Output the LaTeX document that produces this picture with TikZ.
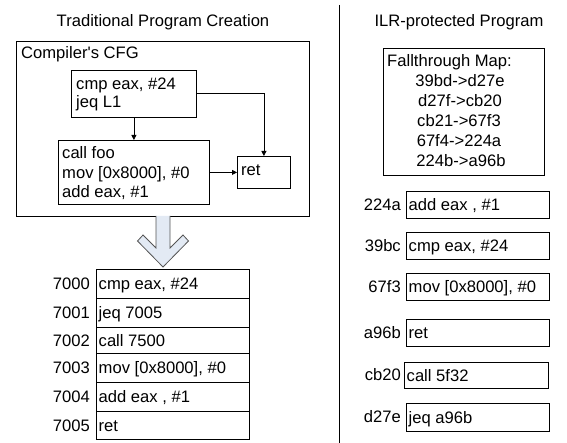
\documentclass[tikz,border=0pt]{standalone}
\usepackage{fontspec}
\setmainfont{Liberation Sans}
\usetikzlibrary{arrows.meta}
\definecolor{arrowfill}{HTML}{E3EAF4}
\definecolor{arrowline}{HTML}{555555}
\begin{document}
\begin{tikzpicture}[x=1pt,y=-1pt,
  txt/.style={font=\fontsize{16.6}{19}\selectfont, inner sep=0pt, text height=11.8pt, text depth=0pt},
  btxt/.style={font=\fontsize{16.6}{19}\selectfont, inner sep=0pt, anchor=base west},
  boxn/.style={draw, line width=0.8pt, inner sep=0pt, anchor=north west},
  flow/.style={line width=0.8pt, -{Triangle[length=5pt,width=5pt]}}]
\useasboundingbox (0,0) rectangle (567,443);
\newcommand\bx[5]{\node[boxn, minimum width=#4pt, minimum height=#5pt] (#1) at (#2,#3) {};}

% titles
\node[btxt, anchor=base] (t1) at (163,27) {Traditional Program Creation};
\node[btxt, anchor=base] (t2) at (459,27) {ILR-protected Program};

% divider
\coordinate (dtop) at (339,5);
\coordinate (dbot) at (339,443);
\draw[line width=0.8pt] (dtop) -- (dbot);

% CFG
\bx{cfg}{16}{41}{293}{175}
\node[btxt] (cfgl) at (21,59) {Compiler\textquotesingle s CFG};
\bx{b1}{71}{70}{125}{47}
\node[btxt] (b1a) at (76,90) {cmp eax, \#24};
\node[btxt] (b1b) at (76,108) {jeq L1};
\bx{b2}{58}{140}{151}{64}
\node[btxt] (b2a) at (62,159) {call foo};
\node[btxt] (b2b) at (62,178.5) {mov [0x8000], \#0};
\node[btxt] (b2c) at (62,198) {add eax, \#1};
\bx{ret}{237}{156}{53}{32}
\node[btxt] (reta) at (241,176) {ret};

\draw[flow] (b1.south) -- (b1.south |- b2.north);
\draw[flow] (b1.east) -| (ret.north);
\draw[flow] (b2.east) -- (ret.west);

% hollow arrow
\draw[fill=arrowfill, draw=arrowline, line width=0.8pt, line join=miter]
  (156,216) -- (156,248) -- (143,235) -- (137.5,241) -- (163,267)
  -- (188.5,241) -- (183,235) -- (170,248) -- (170,216);

% linear layout
\foreach \n/\t/\h/\lab/\code in {
  0/269/29/7000/{cmp eax, \#24},
  1/298/29/7001/{jeq 7005},
  2/327/26/7002/{call 7500},
  3/353/29/7003/{mov [0x8000], \#0},
  4/382/29/7004/{add eax , \#1},
  5/411/28/7005/{ret}}{
  \node[boxn, minimum width=153pt, minimum height=\h pt] (r\n) at (96,\t) {};
  \node[txt, anchor=west] (rc\n) at ([xshift=2.5pt]r\n.west) {\code};
  \node[txt, anchor=east] (rl\n) at ([xshift=-6pt]r\n.west) {\lab};
}

% fallthrough map
\bx{fm}{383}{48}{161}{127}
\node[btxt] (fmt) at (387,67) {Fallthrough Map:};
\node[btxt, anchor=base] (fm1) at (460,87) {39bd->d27e};
\node[btxt, anchor=base] (fm2) at (460,107) {d27f->cb20};
\node[btxt, anchor=base] (fm3) at (459,127) {cb21->67f3};
\node[btxt, anchor=base] (fm4) at (459,147) {67f4->224a};
\node[btxt, anchor=base] (fm5) at (461,167) {224b->a96b};

% ILR blocks
\foreach \n/\x/\t/\w/\h/\lab/\code in {
  0/406/191/143/27/224a/{add eax , \#1},
  1/406/232/143/27/39bc/{cmp eax, \#24},
  2/406/273/143/27/67f3/{mov [0x8000], \#0},
  3/406/319/143/27/a96b/{ret},
  4/404/362/144/26/cb20/{call 5f32},
  5/406/403/143/28/d27e/{jeq a96b}}{
  \node[boxn, minimum width=\w pt, minimum height=\h pt] (s\n) at (\x,\t) {};
  \node[txt, anchor=west] (sc\n) at ([xshift=2.5pt]s\n.west) {\code};
  \node[txt, anchor=east] (sl\n) at (401,\t+\h/2) {\lab};
}
\end{tikzpicture}
\end{document}
